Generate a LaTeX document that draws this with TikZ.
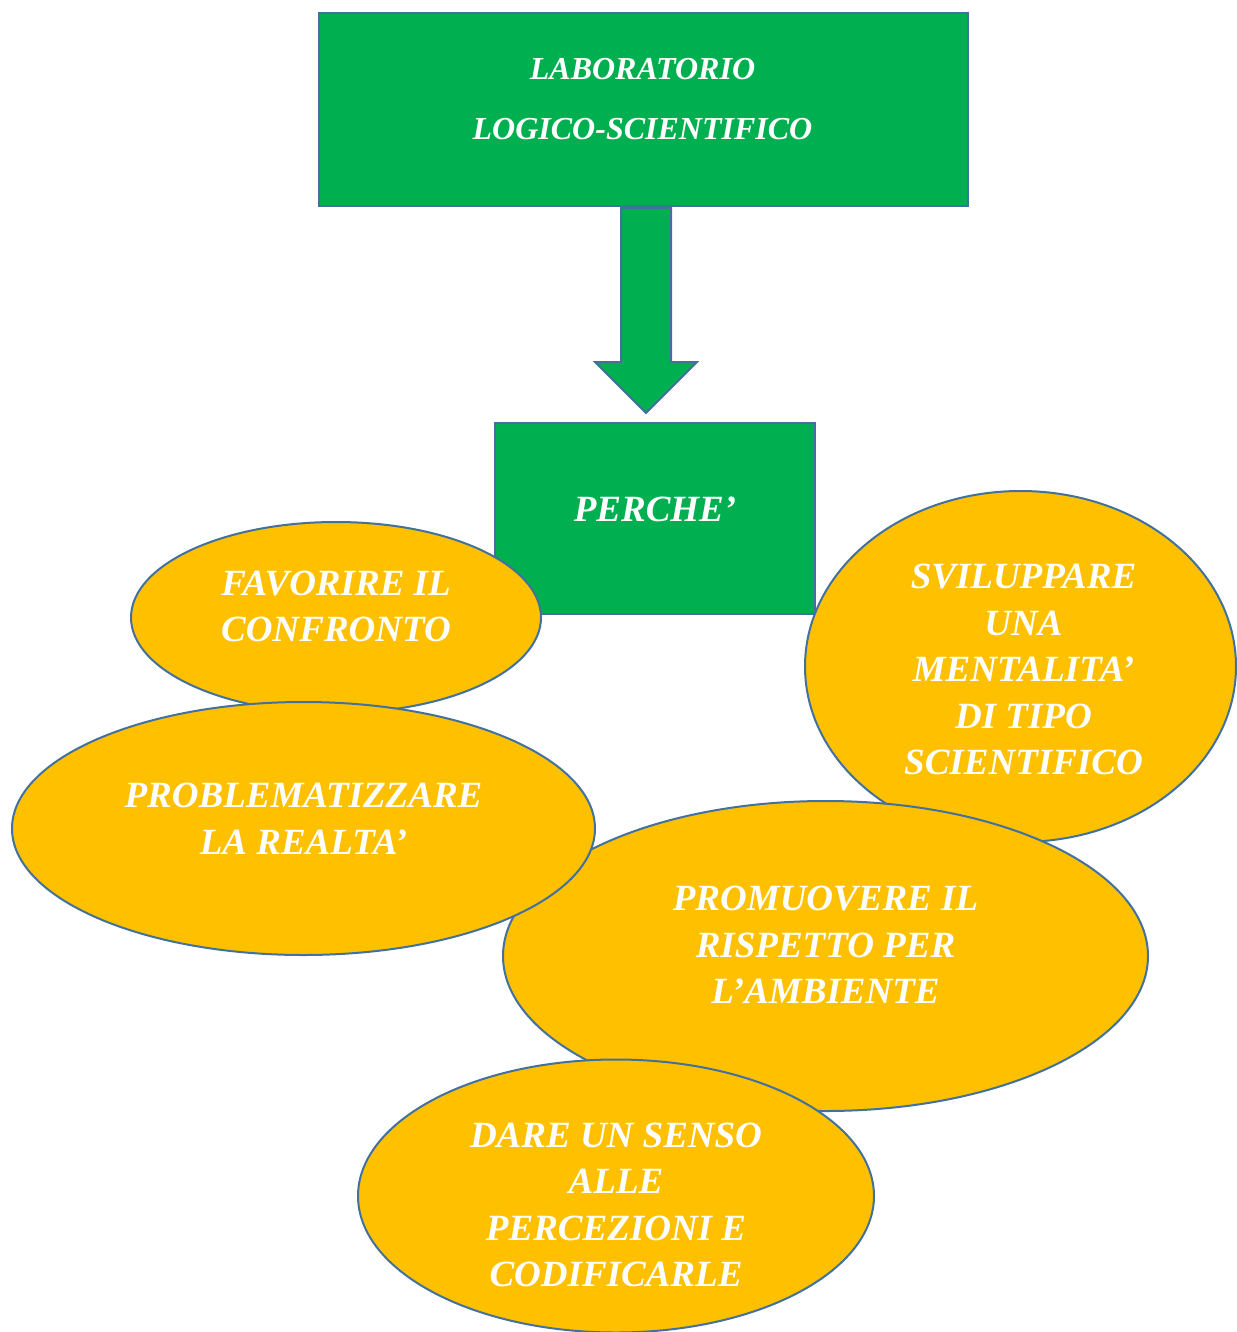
\documentclass[tikz,border=0pt]{standalone}
\usepackage{fontspec}
\setmainfont{Liberation Serif}
\usetikzlibrary{positioning, shapes.geometric, calc}
\definecolor{boxgreen}{RGB}{0, 176, 80}
\definecolor{ovalorange}{RGB}{255, 192, 0}
\definecolor{edgeblue}{RGB}{65, 113, 156}

\begin{document}
\begin{tikzpicture}[
    x=0.5pt, y=-0.5pt, % one unit = one pixel of the reference, y downwards
    greenbox/.style={ % green rectangles
        rectangle,
        draw=edgeblue,
        line width=1pt,
        fill=boxgreen,
        inner sep=0pt
    },
    % orange ellipses with the aims
    oval/.style={
        ellipse,
        draw=edgeblue,
        line width=1pt,
        fill=ovalorange,
        inner sep=0pt
    },
    % white text set on the shapes
    shapetext/.style={
        text=white,
        align=center,
        inner sep=0pt,
        font=\fontsize{18.5}{23.25}\selectfont\bfseries\itshape
    },
    % the big block arrow
    blockarrow/.style={
        draw=edgeblue,
        line width=1pt,
        fill=boxgreen,
        line join=miter
    }
]
\useasboundingbox (0,0) rectangle (1236,1332);

% Title box
\node[greenbox, minimum width=324.5pt, minimum height=96.5pt] (lab) at (643.5,109.5) {};
\node[shapetext, font=\fontsize{16}{30}\selectfont\bfseries\itshape] (labtext)
    at ($(lab)+(-1,-10)$) {LABORATORIO\\LOGICO-SCIENTIFICO};

% Why box
\node[greenbox, minimum width=160pt, minimum height=95.5pt] (why) at (655,518.5) {};
\node[shapetext] (whytext) at ($(why)+(0,-9)$) {PERCHE’};

% Block arrow from title down to the why box
\coordinate (tip) at ($(why.north)+(-9,-9)$);
\draw[blockarrow] (tip) -- ++(51,-51) -- ++(-26,0) -- ++(0,-154) -- ++(-50,0)
    -- ++(0,154) -- ++(-26,0) -- cycle;

% Aims (order matters: later ones lie on top)
\node[oval, minimum width=205pt, minimum height=95.5pt] (fav) at (336,617.5) {};
\node[shapetext] (favtext) at ($(fav)+(0,-11)$) {FAVORIRE IL\\CONFRONTO};

\node[oval, minimum width=215.5pt, minimum height=175.5pt] (svi) at (1020.5,666.5) {};
\node[shapetext] (svitext) at ($(svi)+(3,3)$)
    {SVILUPPARE\\UNA\\MENTALITA’\\DI TIPO\\SCIENTIFICO};

\node[oval, minimum width=322.5pt, minimum height=155pt] (prom) at (825.5,956) {};
\node[shapetext] (promtext) at ($(prom)+(0,-11)$)
    {PROMUOVERE IL\\RISPETTO PER\\L’AMBIENTE};

\node[oval, minimum width=291.5pt, minimum height=126.5pt] (prob) at (303.5,828.5) {};
\node[shapetext] (probtext) at ($(prob)+(0,-10)$) {PROBLEMATIZZARE\\LA REALTA’};

\node[oval, minimum width=258pt, minimum height=136.5pt] (dare) at (616,1196) {};
\node[shapetext] (daretext) at ($(dare)+(0,9)$)
    {DARE UN SENSO\\ALLE\\PERCEZIONI E\\CODIFICARLE};

\end{tikzpicture}
\end{document}
